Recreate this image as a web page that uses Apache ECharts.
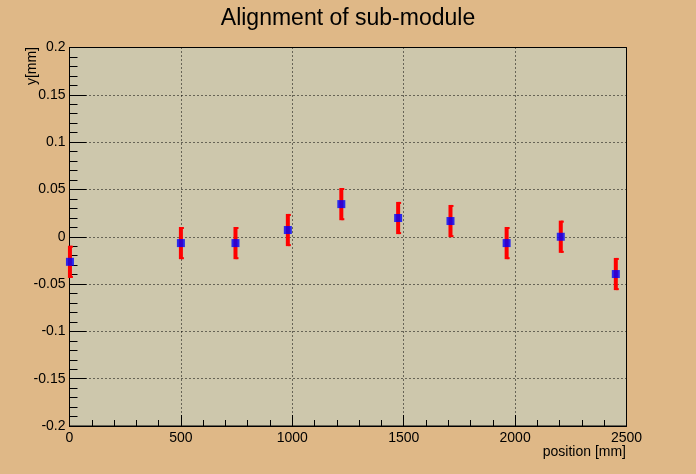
<!DOCTYPE html>
<html>
<head>
<meta charset="utf-8">
<script src="https://cdn.jsdelivr.net/npm/echarts@6/dist/echarts.min.js"></script>
<style>
html,body{margin:0;padding:0;background:#dfb887;}
#c{width:696px;height:474px;}
</style>
</head>
<body>
<div id="c"></div>
<script>
var positions = [2, 500, 745, 980, 1220, 1475, 1710, 1962, 2205, 2452];
var offsets = [-0.0265, -0.0067, -0.0067, 0.0071, 0.0345, 0.0198, 0.0166, -0.0067, 0.0, -0.0394];
var errors = [0.017, 0.017, 0.017, 0.017, 0.017, 0.017, 0.017, 0.017, 0.017, 0.017];

var errData = positions.map(function(p, i){ return [p, offsets[i] - errors[i], offsets[i] + errors[i]]; });
var ptData = positions.map(function(p, i){ return [p, offsets[i]]; });

var chart = echarts.init(document.getElementById('c'));
var font = 'Liberation Sans, Arial, Helvetica, sans-serif';
chart.setOption({
  backgroundColor: '#dfb887',
  animation: false,
  title: {
    text: 'Alignment of sub-module',
    left: 'center', top: 2,
    textStyle: {fontFamily: font, fontSize: 23, fontWeight: 'normal', color: '#000'}
  },
  grid: {left: 69.5, right: 69.5, top: 47.5, bottom: 48, show: true,
    backgroundColor: '#cdc7ac', borderColor: '#000', borderWidth: 1},
  xAxis: {
    type: 'value', min: 0, max: 2500, interval: 500,
    axisLine: {show: true, onZero: false, lineStyle: {color: '#000', width: 1}},
    axisTick: {show: true, inside: true, length: 11, lineStyle: {color: '#000'}},
    minorTick: {show: true, splitNumber: 5, length: 6, lineStyle: {color: '#000'}},
    axisLabel: {fontFamily: font, fontSize: 14, color: '#000', margin: 5,
      formatter: function(v){ return String(v); }},
    splitLine: {show: true, lineStyle: {color: '#000', type: [1, 3], width: 1}}
  },
  yAxis: {
    type: 'value', min: -0.2, max: 0.2, interval: 0.05,
    axisLine: {show: true, onZero: false, lineStyle: {color: '#000', width: 1}},
    axisTick: {show: true, inside: true, length: 17, lineStyle: {color: '#000'}},
    minorTick: {show: true, splitNumber: 5, length: 8, lineStyle: {color: '#000'}},
    axisLabel: {fontFamily: font, fontSize: 14, color: '#000', margin: 4},
    splitLine: {show: true, lineStyle: {color: '#000', type: [1, 3], width: 1}}
  },
  graphic: [
    {type: 'text', x: 626, y: 452, style: {text: 'position [mm]', font: '14px ' + font, fill: '#000', textAlign: 'right', textVerticalAlign: 'middle'}},
    {type: 'text', x: 32, y: 47, rotation: Math.PI / 2, style: {text: 'y[mm]', font: '14px ' + font, fill: '#000', textAlign: 'right', textVerticalAlign: 'middle'}}
  ],
  series: [
    {
      type: 'custom',
      data: errData,
      renderItem: function(params, api){
        var x = api.value(0);
        var lo = api.coord([x, api.value(1)]);
        var hi = api.coord([x, api.value(2)]);
        return {type: 'group', children: [
          {type: 'line', shape: {x1: lo[0], y1: lo[1], x2: hi[0], y2: hi[1]}, style: {stroke: '#ff0000', lineWidth: 4}},
          {type: 'line', shape: {x1: lo[0], y1: lo[1] - 1, x2: lo[0] + 3, y2: lo[1] - 1}, style: {stroke: '#ff0000', lineWidth: 2}},
          {type: 'line', shape: {x1: hi[0], y1: hi[1] + 1, x2: hi[0] + 3, y2: hi[1] + 1}, style: {stroke: '#ff0000', lineWidth: 2}}
        ]};
      },
      z: 2
    },
    {
      type: 'scatter', data: ptData, symbol: 'rect', symbolSize: 8,
      itemStyle: {color: '#0000ff'}, z: 3
    }
  ]
});
</script>
</body>
</html>
